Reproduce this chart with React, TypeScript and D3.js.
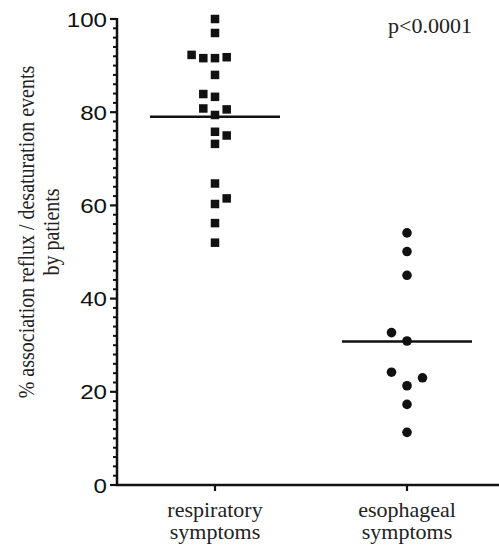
import React from "react";
import * as d3 from "d3";

const categories = ["respiratory", "esophageal"];
const categoryLines = [["respiratory", "symptoms"], ["esophageal", "symptoms"]];
const respiratoryValues = [100, 97, 92.3, 91.6, 91.6, 91.8, 88.0, 83.9, 83.3, 80.8, 80.6, 79.4, 75.8, 75.0, 73.2, 64.7, 61.5, 60.3, 56.2, 52.0];
const respiratoryColumns = [0, 0, -2, -1, 0, 1, 0, -1, 0, -1, 1, 0, 0, 1, 0, 0, 1, 0, 0, 0];
const esophagealValues = [54.1, 50.1, 45.0, 32.7, 30.9, 24.2, 23.0, 21.3, 17.3, 11.3];
const esophagealColumns = [0, 0, 0, -1, 0, -1, 1, 0, 0, 0];
const medians = [79.0, 30.8];
const yTicks = [0, 20, 40, 60, 80, 100];
const yLabelLines = ["% association reflux / desaturation events", "by patients"];
const pText = "p<0.0001";

const W = 499;
const H = 545;
const axisX = 117;
const y0 = 485;
const yTop = 19;

export default function App() {
  const y = d3.scaleLinear().domain([0, 100]).range([y0, yTop]);
  const x = d3.scalePoint<string>().domain(categories).range([119, 503]).padding(0.5);
  const minorTicks = d3.range(0, 101, 2).filter((v) => v % 20 !== 0);
  const sq = 8.5;
  const sqStep = 11.7;
  const r = 4.8;
  const cStep = 15.5;
  const sans = "Liberation Sans, Arial, sans-serif";
  const serif = "Liberation Serif, Times New Roman, serif";
  const xr = x(categories[0])!;
  const xe = x(categories[1])!;
  return (
    <div style={{ position: "fixed", left: 0, top: 0 }}>
      <svg width={W} height={H} style={{ display: "block", background: "#fff" }}>
        {/* y axis */}
        <line x1={axisX} x2={axisX} y1={y(100) - 1} y2={y0 + 1} stroke="#111" strokeWidth={2.5} />
        {yTicks.map((t) => (
          <g key={t}>
            <line x1={axisX - 7} x2={axisX} y1={y(t)} y2={y(t)} stroke="#111" strokeWidth={2.2} />
            <text
              transform={`translate(107,${y(t) + 7.5}) scale(1.15,1)`}
              textAnchor="end"
              fontFamily={sans}
              fontSize={21}
              fill="#111"
            >
              {t}
            </text>
          </g>
        ))}
        {minorTicks.map((t) => (
          <line key={t} x1={axisX - 4} x2={axisX} y1={y(t)} y2={y(t)} stroke="#111" strokeWidth={2} />
        ))}
        {/* x axis */}
        <line x1={axisX - 1} x2={W} y1={y0} y2={y0} stroke="#111" strokeWidth={2.5} />
        {categories.map((c, i) => (
          <g key={c}>
            <line x1={x(c)} x2={x(c)} y1={y0} y2={y0 + 6} stroke="#111" strokeWidth={2.2} />
            {categoryLines[i].map((ln, j) => (
              <text
                key={j}
                transform={`translate(${x(c)},${517 + j * 22}) scale(1.1,1)`}
                textAnchor="middle"
                fontFamily={serif}
                fontSize={20}
                fill="#222"
              >
                {ln}
              </text>
            ))}
          </g>
        ))}
        {/* y label */}
        {yLabelLines.map((ln, j) => (
          <text
            key={j}
            transform={`translate(${34 + j * 25},232) rotate(-90) scale(1,1.15)`}
            textAnchor="middle"
            fontFamily={serif}
            fontSize={20}
            fill="#222"
          >
            {ln}
          </text>
        ))}
        {/* p value */}
        <text transform={`translate(430,33) scale(1.1,1)`} textAnchor="middle" fontFamily={serif} fontSize={20} fill="#222">
          {pText}
        </text>
        {/* respiratory squares */}
        {respiratoryValues.map((v, i) => (
          <rect
            key={i}
            x={xr + respiratoryColumns[i] * sqStep - sq / 2}
            y={y(v) - sq / 2}
            width={sq}
            height={sq}
            fill="#111"
          />
        ))}
        {/* esophageal circles */}
        {esophagealValues.map((v, i) => (
          <circle key={i} cx={xe + esophagealColumns[i] * cStep} cy={y(v)} r={r} fill="#111" />
        ))}
        {/* medians */}
        {categories.map((c, i) => (
          <line key={c} x1={x(c)! - 65} x2={x(c)! + 65} y1={y(medians[i])} y2={y(medians[i])} stroke="#111" strokeWidth={2.5} />
        ))}
      </svg>
    </div>
  );
}
